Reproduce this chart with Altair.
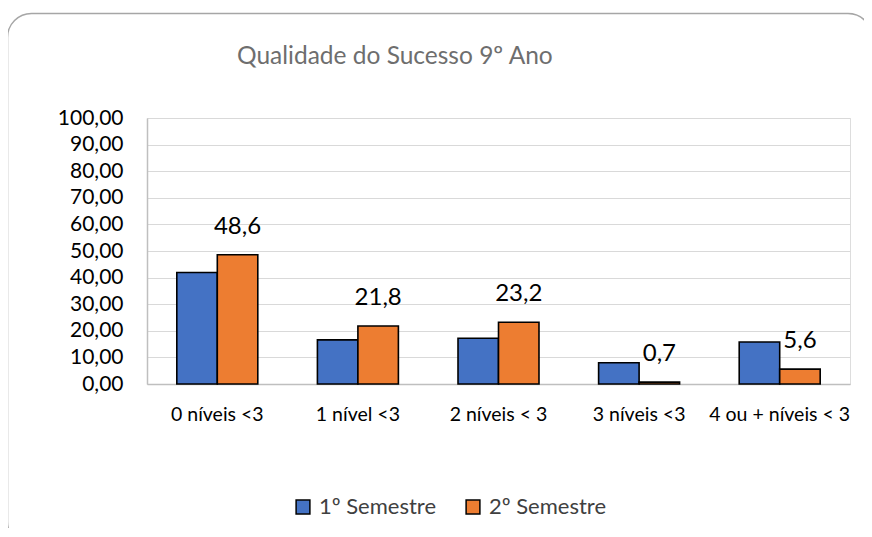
import altair as alt
import pandas as pd

categorias = ["0 níveis <3", "1 nível <3", "2 níveis < 3", "3 níveis <3", "4 ou + níveis < 3"]
series = ["1º Semestre", "2º Semestre"]
semestre1 = [41.9, 16.6, 17.2, 8.0, 15.8]
semestre2 = [48.6, 21.8, 23.2, 0.7, 5.6]
y_ticks = [0, 10, 20, 30, 40, 50, 60, 70, 80, 90, 100]
cores = ["#4472C4", "#ED7D31"]
titulo = "Qualidade do Sucesso 9º Ano"

rows = []
for c, a, b in zip(categorias, semestre1, semestre2):
    rows.append({"cat": c, "serie": series[0], "valor": a})
    rows.append({"cat": c, "serie": series[1], "valor": b})
df = pd.DataFrame(rows)

FONT = "Lato"
W, H = 703, 266
PL, PT = 139, 110
TOTAL_W, TOTAL_H = 856, 520

x_enc = alt.X(
    "cat:N", sort=categorias, title=None,
    scale=alt.Scale(paddingInner=0.424, paddingOuter=0.212),
    axis=alt.Axis(labelAngle=0, labelFontSize=19.5, labelColor="#000000", labelFont=FONT,
                  labelPadding=21, ticks=False, domainColor="#bfbfbf", domainWidth=1.5,
                  grid=False),
)
xo_enc = alt.XOffset("serie:N", sort=series, scale=alt.Scale(paddingInner=0, paddingOuter=0))
y_enc = alt.Y(
    "valor:Q", title=None,
    scale=alt.Scale(domain=[0, 100], nice=False),
    axis=alt.Axis(values=y_ticks, labelExpr="replace(format(datum.value, '.2f'), '.', ',')",
                  labelFontSize=21, labelColor="#000000", labelFont=FONT, labelPadding=24,
                  ticks=False, domain=True, domainColor="#bfbfbf", domainWidth=1.5,
                  gridColor="#d9d9d9", gridWidth=1.2),
)

bars = alt.Chart(df).mark_bar(stroke="#000000", strokeWidth=1.6, opacity=1).encode(
    x=x_enc, xOffset=xo_enc, y=y_enc,
    color=alt.Color(
        "serie:N", sort=series, scale=alt.Scale(domain=series, range=cores),
        legend=alt.Legend(title=None, orient="none", direction="horizontal",
                          legendX=145, legendY=378, symbolType="square", symbolSize=190,
                          symbolStrokeColor="#000000", symbolStrokeWidth=1.5, symbolOpacity=1,
                          labelFontSize=22, labelFont=FONT, labelColor="#404040",
                          labelOffset=5, columnPadding=25),
    ),
)

labels = alt.Chart(df).transform_filter(
    alt.datum.serie == series[1]
).transform_calculate(
    rotulo="replace(format(datum.valor, '.1f'), '.', ',')"
).mark_text(fontSize=24, font=FONT, color="#000000", baseline="middle", dy=-28).encode(
    x=x_enc, xOffset=xo_enc, y=y_enc, text="rotulo:N",
)

title_mark = alt.Chart(pd.DataFrame({"t": [titulo]})).mark_text(
    fontSize=24.5, font=FONT, color="#6e6e6e", align="left", baseline="middle"
).encode(
    x=alt.value(237 - 8 - PL), y=alt.value(57 - 8 - PT), text="t:N",
)

frame = alt.Chart(pd.DataFrame({"k": [0]})).mark_rect(
    fillOpacity=0, stroke="#a6a6a6", strokeWidth=1.5, cornerRadius=24
).encode(
    x=alt.value(7.5 - 8 - PL), x2=alt.value(872 - 8 - PL),
    y=alt.value(13.5 - 8 - PT), y2=alt.value(546 - 8 - PT),
)

chart = alt.layer(frame, title_mark, bars, labels).properties(
    width=W, height=H,
    autosize=alt.AutoSizeParams(type="none"),
    padding={"left": PL, "top": PT, "right": TOTAL_W - PL - W, "bottom": TOTAL_H - PT - H},
).configure_view(stroke=None).configure(background="#ffffff")

chart.save("out.html", embed_options={"renderer": "svg", "actions": False})
